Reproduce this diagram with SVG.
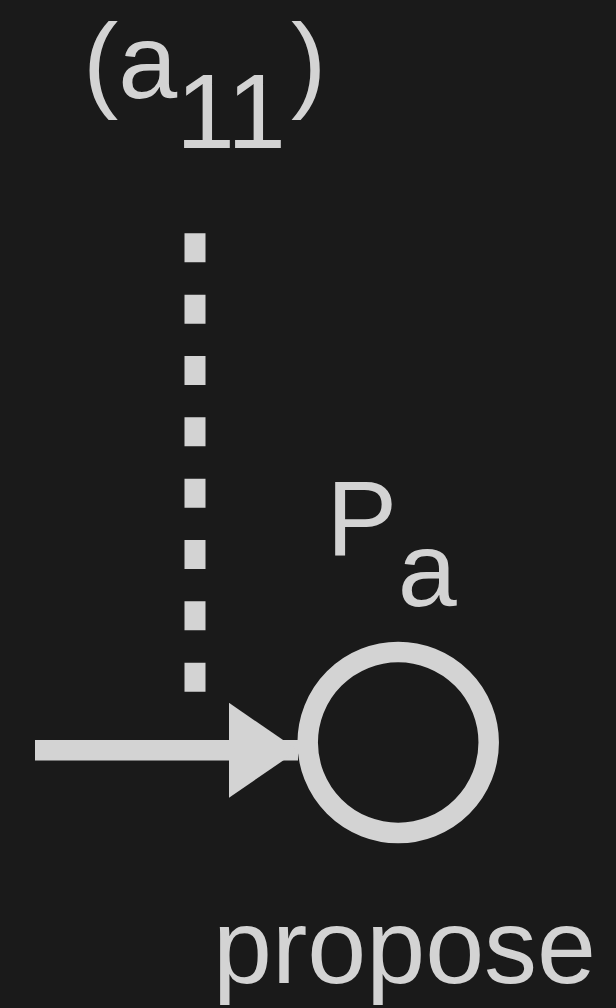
<svg xmlns="http://www.w3.org/2000/svg" width="616" height="1008" viewBox="0 0 616 1008">
  <style>
    .lbl { font-family: "Liberation Sans", Arial, Helvetica, sans-serif; font-size: 106px; fill: #d3d3d3; }
    .edge { stroke: #d3d3d3; fill: none; }
  </style>
  <defs>
    <marker id="arrow" markerUnits="userSpaceOnUse" markerWidth="69" markerHeight="95" refX="69" refY="47.5" orient="auto" viewBox="0 0 69 95">
      <path d="M0,0 L69,47.5 L0,95 Z" fill="#d3d3d3"/>
    </marker>
  </defs>
  <rect x="0" y="0" width="616" height="1008" fill="#1a1a1a"/>
  <g id="connectors">
    <line class="edge" x1="195" y1="233.3" x2="195" y2="691.7" stroke-width="21" stroke-dasharray="29 32.34"/>
    <line class="edge" x1="35" y1="750.3" x2="298" y2="750.3" stroke-width="20.5" marker-end="url(#arrow)"/>
  </g>
  <g id="label-a11">
    <text class="lbl" x="83" y="98">(a<tspan x="176" y="147.5">11</tspan><tspan x="291" y="98">)</tspan></text>
  </g>
  <g id="node-Pa">
    <circle cx="398.2" cy="742.5" r="90.5" fill="none" stroke="#d3d3d3" stroke-width="20.5"/>
    <text class="lbl" x="326.6" y="555">P<tspan x="397.8" y="606">a</tspan></text>
    <text class="lbl" x="213" y="983">propose</text>
  </g>
</svg>
